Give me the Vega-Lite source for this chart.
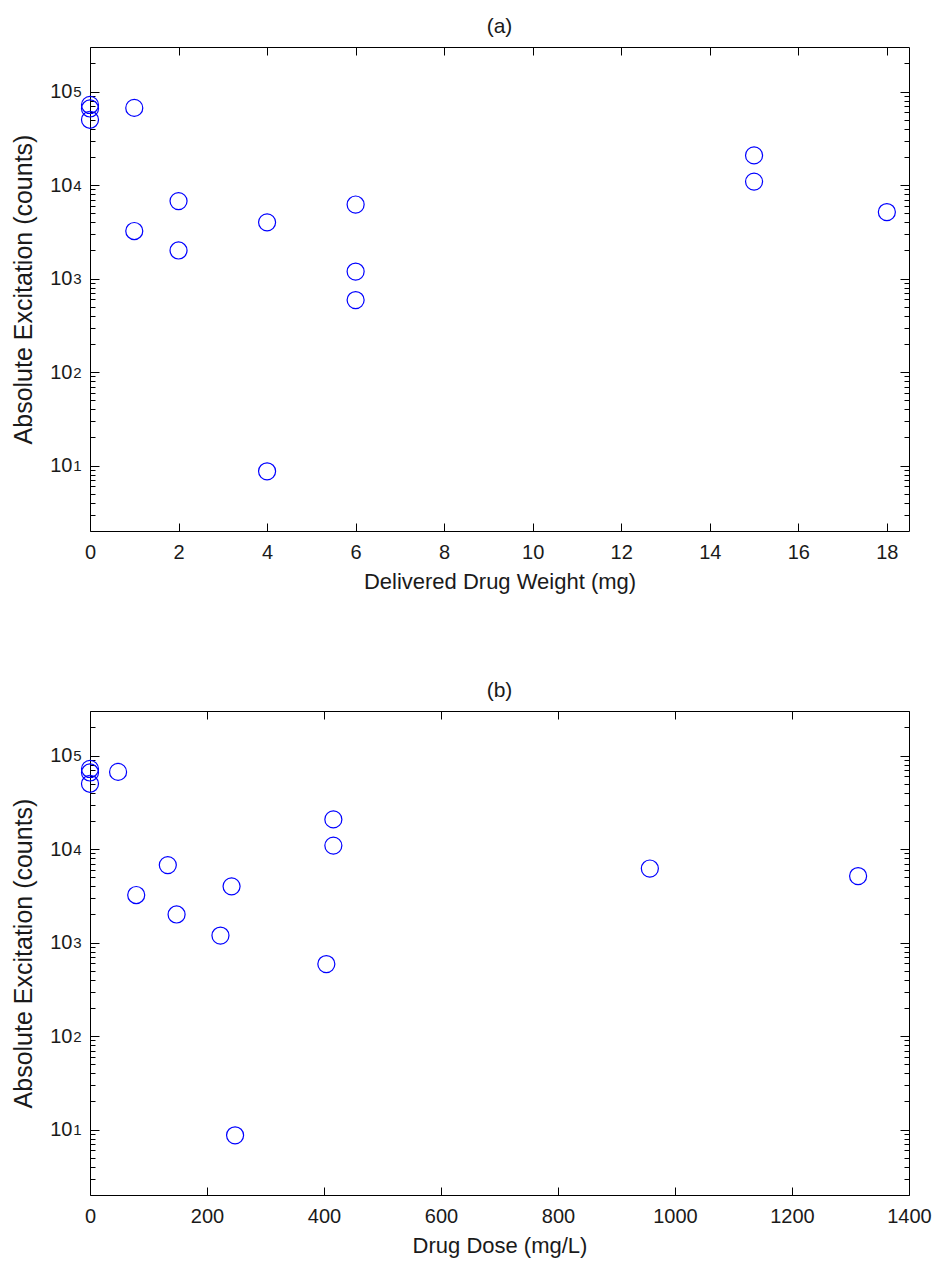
{
  "$schema": "https://vega.github.io/schema/vega-lite/v6.json",
  "autosize": "none",
  "padding": {"left": 90, "top": 47, "right": 848, "bottom": 1217},
  "background": "white",
  "data": {
    "values": [
      {"weight": 0, "dose": 0, "excitation": 72000},
      {"weight": 0, "dose": 0, "excitation": 66000},
      {"weight": 0, "dose": 0, "excitation": 50000},
      {"weight": 1, "dose": 48, "excitation": 67000},
      {"weight": 1, "dose": 79, "excitation": 3230},
      {"weight": 2, "dose": 133, "excitation": 6750},
      {"weight": 2, "dose": 148, "excitation": 2000},
      {"weight": 4, "dose": 242, "excitation": 4000},
      {"weight": 4, "dose": 248, "excitation": 8.7},
      {"weight": 6, "dose": 957, "excitation": 6200},
      {"weight": 6, "dose": 223, "excitation": 1190},
      {"weight": 6, "dose": 404, "excitation": 590},
      {"weight": 15, "dose": 416, "excitation": 20800},
      {"weight": 15, "dose": 416, "excitation": 10900},
      {"weight": 18, "dose": 1313, "excitation": 5150}
    ]
  },
  "vconcat": [
    {
      "title": {"text": "(a)"},
      "width": 819,
      "height": 484,
      "resolve": {"axis": {"x": "independent", "y": "independent"}},
      "layer": [
        {
          "mark": {"type": "point", "shape": "circle", "size": 290, "filled": false, "color": "#0000ff", "strokeWidth": 1.2, "opacity": 1},
          "encoding": {
            "x": {"field": "weight", "type": "quantitative",
              "scale": {"domain": [0, 18.5], "nice": false, "zero": false},
              "axis": {"orient": "bottom", "values": [0, 2, 4, 6, 8, 10, 12, 14, 16, 18], "format": "d", "ticks": false, "labelPadding": 11,
                "title": "Delivered Drug Weight (mg)", "titleFontSize": 22, "titleY": 57.6, "titleBaseline": "alphabetic"}},
            "y": {"field": "excitation", "type": "quantitative",
              "scale": {"type": "log", "domain": [2, 300000], "nice": false},
              "axis": {"orient": "left", "values": [10, 100, 1000, 10000, 100000], "ticks": false, "labelPadding": 18, "labelExpr": "'10'",
                "title": "Absolute Excitation (counts)", "titleFontSize": 25, "titleX": -59, "titleY": 242, "titleAngle": 270, "titleAlign": "center", "titleBaseline": "alphabetic"}}
          }
        },
        {
          "mark": {"type": "point", "opacity": 0},
          "encoding": {
            "x": {"field": "weight", "type": "quantitative",
              "axis": {"orient": "bottom", "values": [0, 2, 4, 6, 8, 10, 12, 14, 16, 18], "labels": false, "tickSize": -8, "title": null}},
            "y": {"field": "excitation", "type": "quantitative",
              "axis": {"orient": "left", "values": [10, 100, 1000, 10000, 100000], "labels": false, "tickSize": -9, "title": null}}
          }
        },
        {
          "mark": {"type": "point", "opacity": 0},
          "encoding": {
            "x": {"field": "weight", "type": "quantitative",
              "axis": {"orient": "top", "values": [0, 2, 4, 6, 8, 10, 12, 14, 16, 18], "labels": false, "tickSize": -8, "title": null}},
            "y": {"field": "excitation", "type": "quantitative",
              "axis": {"orient": "right", "values": [10, 100, 1000, 10000, 100000], "labels": false, "tickSize": -9, "title": null}}
          }
        },
        {
          "mark": {"type": "point", "opacity": 0},
          "encoding": {
            "x": {"field": "weight", "type": "quantitative", "axis": null},
            "y": {"field": "excitation", "type": "quantitative",
              "axis": {"orient": "left", "values": [3, 4, 5, 6, 7, 8, 9, 20, 30, 40, 50, 60, 70, 80, 90, 200, 300, 400, 500, 600, 700, 800, 900, 2000, 3000, 4000, 5000, 6000, 7000, 8000, 9000, 20000, 30000, 40000, 50000, 60000, 70000, 80000, 90000, 200000], "labels": false, "tickSize": -5, "title": null}}
          }
        },
        {
          "mark": {"type": "point", "opacity": 0},
          "encoding": {
            "x": {"field": "weight", "type": "quantitative", "axis": null},
            "y": {"field": "excitation", "type": "quantitative",
              "axis": {"orient": "right", "values": [3, 4, 5, 6, 7, 8, 9, 20, 30, 40, 50, 60, 70, 80, 90, 200, 300, 400, 500, 600, 700, 800, 900, 2000, 3000, 4000, 5000, 6000, 7000, 8000, 9000, 20000, 30000, 40000, 50000, 60000, 70000, 80000, 90000, 200000], "labels": false, "tickSize": -5, "title": null}}
          }
        },
        {
          "mark": {"type": "point", "opacity": 0},
          "encoding": {
            "x": {"field": "weight", "type": "quantitative", "axis": null},
            "y": {"field": "excitation", "type": "quantitative",
              "axis": {"orient": "left", "values": [10, 100, 1000, 10000, 100000], "ticks": false, "labelFontSize": 15, "labelAlign": "left", "labelBaseline": "middle", "labelPadding": 17.3, "labelDy": -11,
                "labelExpr": "'' + round(log(datum.value) / LN10)", "title": null}}
          }
        }
      ]
    },
    {
      "title": {"text": "(b)"},
      "width": 819,
      "height": 484,
      "resolve": {"axis": {"x": "independent", "y": "independent"}},
      "layer": [
        {
          "mark": {"type": "point", "shape": "circle", "size": 290, "filled": false, "color": "#0000ff", "strokeWidth": 1.2, "opacity": 1},
          "encoding": {
            "x": {"field": "dose", "type": "quantitative",
              "scale": {"domain": [0, 1400], "nice": false, "zero": false},
              "axis": {"orient": "bottom", "values": [0, 200, 400, 600, 800, 1000, 1200, 1400], "format": "d", "ticks": false, "labelPadding": 11,
                "title": "Drug Dose (mg/L)", "titleFontSize": 22, "titleY": 57.6, "titleBaseline": "alphabetic"}},
            "y": {"field": "excitation", "type": "quantitative",
              "scale": {"type": "log", "domain": [2, 300000], "nice": false},
              "axis": {"orient": "left", "values": [10, 100, 1000, 10000, 100000], "ticks": false, "labelPadding": 18, "labelExpr": "'10'",
                "title": "Absolute Excitation (counts)", "titleFontSize": 25, "titleX": -59, "titleY": 242, "titleAngle": 270, "titleAlign": "center", "titleBaseline": "alphabetic"}}
          }
        },
        {
          "mark": {"type": "point", "opacity": 0},
          "encoding": {
            "x": {"field": "dose", "type": "quantitative",
              "axis": {"orient": "bottom", "values": [0, 200, 400, 600, 800, 1000, 1200, 1400], "labels": false, "tickSize": -8, "title": null}},
            "y": {"field": "excitation", "type": "quantitative",
              "axis": {"orient": "left", "values": [10, 100, 1000, 10000, 100000], "labels": false, "tickSize": -9, "title": null}}
          }
        },
        {
          "mark": {"type": "point", "opacity": 0},
          "encoding": {
            "x": {"field": "dose", "type": "quantitative",
              "axis": {"orient": "top", "values": [0, 200, 400, 600, 800, 1000, 1200, 1400], "labels": false, "tickSize": -8, "title": null}},
            "y": {"field": "excitation", "type": "quantitative",
              "axis": {"orient": "right", "values": [10, 100, 1000, 10000, 100000], "labels": false, "tickSize": -9, "title": null}}
          }
        },
        {
          "mark": {"type": "point", "opacity": 0},
          "encoding": {
            "x": {"field": "dose", "type": "quantitative", "axis": null},
            "y": {"field": "excitation", "type": "quantitative",
              "axis": {"orient": "left", "values": [3, 4, 5, 6, 7, 8, 9, 20, 30, 40, 50, 60, 70, 80, 90, 200, 300, 400, 500, 600, 700, 800, 900, 2000, 3000, 4000, 5000, 6000, 7000, 8000, 9000, 20000, 30000, 40000, 50000, 60000, 70000, 80000, 90000, 200000], "labels": false, "tickSize": -5, "title": null}}
          }
        },
        {
          "mark": {"type": "point", "opacity": 0},
          "encoding": {
            "x": {"field": "dose", "type": "quantitative", "axis": null},
            "y": {"field": "excitation", "type": "quantitative",
              "axis": {"orient": "right", "values": [3, 4, 5, 6, 7, 8, 9, 20, 30, 40, 50, 60, 70, 80, 90, 200, 300, 400, 500, 600, 700, 800, 900, 2000, 3000, 4000, 5000, 6000, 7000, 8000, 9000, 20000, 30000, 40000, 50000, 60000, 70000, 80000, 90000, 200000], "labels": false, "tickSize": -5, "title": null}}
          }
        },
        {
          "mark": {"type": "point", "opacity": 0},
          "encoding": {
            "x": {"field": "dose", "type": "quantitative", "axis": null},
            "y": {"field": "excitation", "type": "quantitative",
              "axis": {"orient": "left", "values": [10, 100, 1000, 10000, 100000], "ticks": false, "labelFontSize": 15, "labelAlign": "left", "labelBaseline": "middle", "labelPadding": 17.3, "labelDy": -11,
                "labelExpr": "'' + round(log(datum.value) / LN10)", "title": null}}
          }
        }
      ]
    }
  ],
  "spacing": 180,
  "bounds": "flush",
  "config": {
    "font": "Liberation Sans",
    "view": {"stroke": "#000000", "strokeWidth": 1},
    "axis": {
      "grid": false,
      "domain": false,
      "labelFont": "Liberation Sans",
      "labelFontSize": 20,
      "labelColor": "#1a1a1a",
      "labelFlush": false,
      "labelOverlap": false,
      "titleFont": "Liberation Sans",
      "titleFontWeight": "normal",
      "titleColor": "#1a1a1a",
      "tickColor": "#000000",
      "tickWidth": 1
    },
    "title": {"font": "Liberation Sans", "fontSize": 21, "fontWeight": "normal", "color": "#1a1a1a", "offset": 10, "anchor": "middle"}
  }
}
